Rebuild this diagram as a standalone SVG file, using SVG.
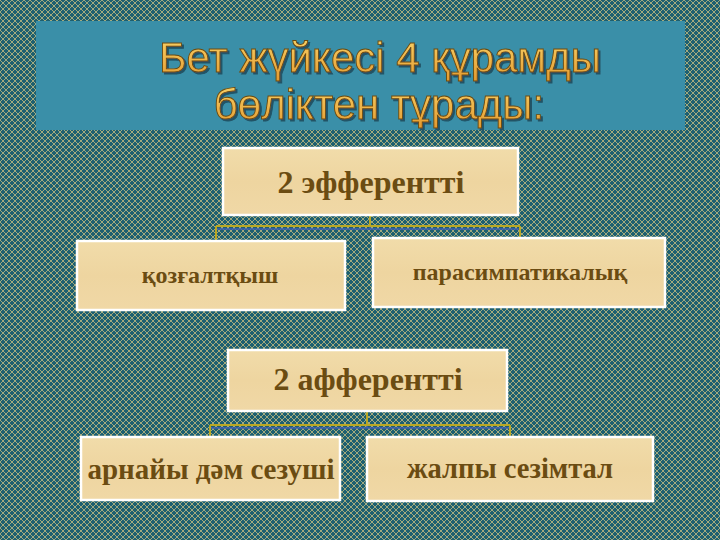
<svg xmlns="http://www.w3.org/2000/svg" width="720" height="540" viewBox="0 0 720 540">
<defs>
<pattern id="hatch" width="6" height="6" patternUnits="userSpaceOnUse">
<rect width="6" height="6" fill="#1d5f70"/>
<path d="M0,0 L6,6 M6,0 L0,6" stroke="#c4bd80" stroke-width="0.8"/>
</pattern>
<linearGradient id="paper" x1="0" y1="0" x2="0" y2="1">
<stop offset="0" stop-color="#f1dcaa"/>
<stop offset="0.5" stop-color="#eed5a0"/>
<stop offset="1" stop-color="#f0d8a6"/>
</linearGradient>
<linearGradient id="gold" x1="0" y1="0" x2="0" y2="1">
<stop offset="0" stop-color="#fbd56a"/>
<stop offset="1" stop-color="#e39a30"/>
</linearGradient>
<filter id="shadow" x="-5%" y="-20%" width="110%" height="140%">
<feDropShadow dx="2" dy="2" stdDeviation="0.6" flood-color="#1d4e5e" flood-opacity="0.9"/>
</filter>
<style>
.box{fill:url(#paper);stroke:#ffffff;stroke-width:2.5}
.lbl{font-family:"Liberation Serif","Times New Roman",serif;font-weight:bold;fill:#6b4c12;text-anchor:middle}
.ttl{font-family:"Liberation Sans",Arial,sans-serif;font-size:42px;fill:url(#gold);stroke:#6a4a10;stroke-width:0.9;text-anchor:middle;filter:url(#shadow)}
.cy{fill:none;stroke:#b9a824;stroke-width:2}
.cb{fill:none;stroke:#3d5fb0;stroke-width:1.5}
</style>
</defs>
<rect width="720" height="540" fill="url(#hatch)"/>
<g id="title">
<rect x="36" y="21" width="649" height="109" fill="#3a8fa8"/>
<text class="ttl" x="380" y="72">Бет жүйкесі 4 құрамды</text>
<text class="ttl" x="379" y="119">бөліктен тұрады:</text>
</g>
<g id="connectors">
<path class="cb" d="M370,217 V229 M216,229 H520 M216,229 V240 M520,229 V238"/>
<path class="cy" d="M370,216 V226 M216,226 H520 M216,226 V240 M520,226 V238"/>
<path class="cb" d="M367,413 V428 M210,428 H510 M210,428 V437 M510,428 V437"/>
<path class="cy" d="M367,412 V425 M210,425 H510 M210,425 V437 M510,425 V437"/>
</g>
<g id="n1">
<rect class="box" x="223" y="148" width="295" height="67"/>
<text class="lbl" x="371" y="193" font-size="32">2 эфферентті</text>
</g>
<g id="n2">
<rect class="box" x="77" y="241" width="268" height="69"/>
<text class="lbl" x="210" y="283" font-size="24">қозғалтқыш</text>
</g>
<g id="n3">
<rect class="box" x="373" y="238" width="292" height="69"/>
<text class="lbl" x="520" y="280" font-size="24">парасимпатикалық</text>
</g>
<g id="n4">
<rect class="box" x="228" y="350" width="279" height="61"/>
<text class="lbl" x="368" y="390" font-size="32">2 афферентті</text>
</g>
<g id="n5">
<rect class="box" x="81" y="437" width="259" height="63"/>
<text class="lbl" x="211" y="479" font-size="29">арнайы дәм сезуші</text>
</g>
<g id="n6">
<rect class="box" x="367" y="437" width="286" height="64"/>
<text class="lbl" x="510" y="478" font-size="28.5">жалпы сезімтал</text>
</g>
</svg>
